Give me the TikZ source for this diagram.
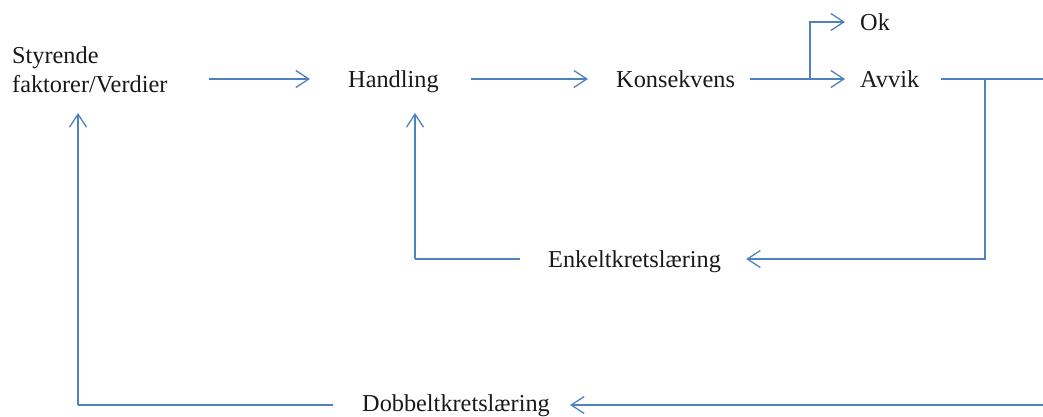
\documentclass[tikz,border=0pt]{standalone}
\usepackage{fontspec}
\setmainfont{Liberation Serif}
\usetikzlibrary{arrows.meta,calc}
\definecolor{linkblue}{RGB}{79,129,189}
\begin{document}
\begin{tikzpicture}[x=1pt,y=1pt,
  lbl/.style={inner sep=0pt, font=\fontsize{24.3}{29}\selectfont, text=black!90},
  link/.style={draw=linkblue, line width=1.4pt},
  arr/.style={link, -{Straight Barb[length=13pt,width=17pt,line width=1.3pt]}}]
\useasboundingbox (0,0) rectangle (1043,-416);

% text nodes
\node[lbl, anchor=north west, align=left] (sty) at (12,-46) {Styrende\\faktorer/Verdier};
\node[lbl, anchor=base west] (hand) at (348,-87) {Handling};
\node[lbl, anchor=base west] (kons) at (616,-87) {Konsekvens};
\node[lbl, anchor=base west] (ok)   at (860,-30) {Ok};
\node[lbl, anchor=base west] (avv)  at (860,-87) {Avvik};
\node[lbl, anchor=base west] (enk)  at (548,-267) {Enkeltkretslæring};
\node[lbl, anchor=base west] (dob)  at (362,-411) {Dobbeltkretslæring};

% rows and corners of the connectors
\coordinate (row)   at (0,-79);
\coordinate (okrow) at (0,-22);
\coordinate (enkrow) at (0,-259);
\coordinate (dobrow) at (0,-405);
\coordinate (split) at (810,-79);
\coordinate (drop)  at (985,-79);
\coordinate (edge)  at (1043,-79);
\coordinate (edgeb) at (1043,-405);
\coordinate (enkl)  at (415,-259);
\coordinate (dobl)  at (78,-405);

% main chain
\draw[arr, shorten <=41pt, shorten >=38pt] (sty.east |- row) -- (hand.west |- row);
\draw[arr, shorten <=32pt, shorten >=28pt] (hand.east |- row) -- (kons.west |- row);
\draw[arr, shorten <=15pt, shorten >=15pt] (kons.east |- row) -- (avv.west |- row);
\draw[arr, shorten >=15pt] (split) |- (ok.west |- okrow);

% deviation feeds both loops
\draw[link, shorten <=22pt] (avv.east |- row) -- (edge);
\draw[arr, shorten >=25pt] (drop) |- (enk.east |- enkrow);

% single-loop learning back to action
\draw[link, shorten <=28pt] (enk.west |- enkrow) -- (enkl);
\draw[arr] (enkl) -- (415,-113);

% double-loop learning back to governing values
\draw[arr, shorten >=20pt] (edgeb) -- (dob.east |- dobrow);
\draw[link, shorten <=29pt] (dob.west |- dobrow) -- (dobl);
\draw[arr] (dobl) -- (78,-113);
\end{tikzpicture}
\end{document}
